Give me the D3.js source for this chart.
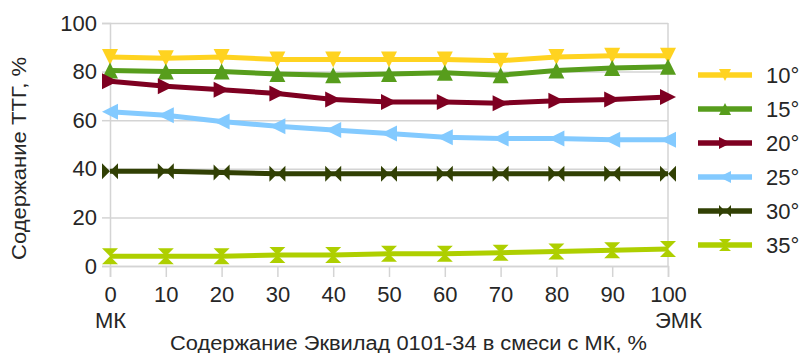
<!DOCTYPE html>
<html>
<head>
<meta charset="utf-8">
<script src="https://cdn.jsdelivr.net/npm/d3@7"></script>
<style>
  html, body { margin: 0; padding: 0; background: #fff; }
  svg { display: block; font-family: "Liberation Sans", Arial, sans-serif; }
</style>
</head>
<body>
<svg id="chart" width="800" height="353"></svg>
<script>
// Share of Эквилад 0101-34 in the blend (x) vs. TTG content at several temperatures
const categories = [0, 10, 20, 30, 40, 50, 60, 70, 80, 90, 100];
const categorySubLabels = { 0: "МК", 100: "ЭМК" };
const yTicks = [0, 20, 40, 60, 80, 100];

const seriesNames = ["10°", "15°", "20°", "25°", "30°", "35°"];
const values10 = [86, 85.5, 86, 85, 85, 85, 85, 84.5, 86, 86.5, 86.5];
const values15 = [80.5, 80, 80, 79, 78.5, 79, 79.5, 78.5, 80.5, 81.5, 82];
const values20 = [76, 74, 72.5, 71, 68.5, 67.5, 67.5, 67, 68, 68.5, 69.5];
const values25 = [63.5, 62, 59.5, 57.5, 56, 54.5, 53, 52.5, 52.5, 52, 52];
const values30 = [39, 39, 38.5, 38, 38, 38, 38, 38, 38, 38, 38];
const values35 = [4, 4, 4, 4.5, 4.5, 5, 5, 5.5, 6, 6.5, 7];

const seriesColors = ["#ffd320", "#579d1c", "#7e0021", "#83caff", "#314004", "#aecf00"];
const seriesSymbols = ["down", "up", "right", "left", "bowtie", "hourglass"];

const xTitle = "Содержание Эквилад 0101-34 в смеси с МК, %";
const yTitle = "Содержание ТТГ, %";

const series = [values10, values15, values20, values25, values30, values35].map((vals, i) => ({
  name: seriesNames[i],
  color: seriesColors[i],
  symbol: seriesSymbols[i],
  points: categories.map((c, j) => ({ x: c, y: vals[j] }))
}));

// Plot geometry
const plot = { left: 110, right: 668, top: 23, bottom: 266 };
const textColor = "#262626";
const gridColor = "#d4d4d4";
const tickFont = "22px";

const x = d3.scaleLinear().domain([0, 100]).range([plot.left, plot.right]);
const y = d3.scaleLinear().domain([0, 100]).range([plot.bottom, plot.top]);

const svg = d3.select("#chart");

// Symbol outlines, s = half extent
function symbolPath(type, s) {
  const p = d3.path();
  switch (type) {
    case "down":
      p.moveTo(-s, -s); p.lineTo(s, -s); p.lineTo(0, s); p.closePath(); break;
    case "up":
      p.moveTo(-s, s); p.lineTo(s, s); p.lineTo(0, -s); p.closePath(); break;
    case "right":
      p.moveTo(-s, -s); p.lineTo(-s, s); p.lineTo(s, 0); p.closePath(); break;
    case "left":
      p.moveTo(s, -s); p.lineTo(s, s); p.lineTo(-s, 0); p.closePath(); break;
    case "bowtie":
      p.moveTo(-s, -s); p.lineTo(0, 0); p.lineTo(-s, s); p.closePath();
      p.moveTo(s, -s); p.lineTo(0, 0); p.lineTo(s, s); p.closePath(); break;
    case "hourglass":
      p.moveTo(-s, -s); p.lineTo(s, -s); p.lineTo(0, 0); p.closePath();
      p.moveTo(-s, s); p.lineTo(s, s); p.lineTo(0, 0); p.closePath(); break;
  }
  return p.toString();
}

// Horizontal gridlines
svg.append("g")
  .attr("transform", `translate(${plot.left},0)`)
  .call(d3.axisLeft(y).tickValues(yTicks).tickSize(-(plot.right - plot.left)).tickFormat(""))
  .call(g => g.select(".domain").remove())
  .call(g => g.selectAll("line").attr("stroke", gridColor).attr("stroke-width", 1.5));

// Y axis: short outer ticks and labels
svg.append("g")
  .attr("transform", `translate(${plot.left},0)`)
  .call(d3.axisLeft(y).tickValues(yTicks).tickSize(8).tickPadding(5))
  .call(g => g.select(".domain").attr("stroke", gridColor).attr("stroke-width", 1.5))
  .call(g => g.selectAll("line").attr("stroke", gridColor).attr("stroke-width", 1.5))
  .call(g => g.selectAll("text")
    .attr("fill", textColor)
    .style("font-size", tickFont)
    .style("font-family", "'Liberation Sans', Arial, sans-serif"));

// Right plot border
svg.append("line")
  .attr("x1", plot.right).attr("x2", plot.right)
  .attr("y1", plot.top).attr("y2", plot.bottom)
  .attr("stroke", gridColor).attr("stroke-width", 1.5);

// X axis
const xAxis = svg.append("g")
  .attr("transform", `translate(0,${plot.bottom})`)
  .call(d3.axisBottom(x).tickValues(categories).tickSize(11).tickPadding(9))
  .call(g => g.select(".domain").attr("stroke", gridColor).attr("stroke-width", 1.5))
  .call(g => g.selectAll("line").attr("stroke", gridColor).attr("stroke-width", 1.5))
  .call(g => g.selectAll("text")
    .attr("fill", textColor)
    .style("font-size", tickFont)
    .style("font-family", "'Liberation Sans', Arial, sans-serif"));

// Second line under the first and last category
xAxis.selectAll(".tick").each(function (d) {
  const sub = categorySubLabels[d];
  if (!sub) return;
  d3.select(this).select("text").append("tspan")
    .attr("x", d === 100 ? 10 : 0)
    .attr("dy", "1.2em")
    .text(sub);
});

// Series lines
const line = d3.line().x(d => x(d.x)).y(d => y(d.y));
const seriesG = svg.append("g");
series.forEach(s => {
  const g = seriesG.append("g");
  g.append("path")
    .datum(s.points)
    .attr("fill", "none")
    .attr("stroke", s.color)
    .attr("stroke-width", 5)
    .attr("stroke-linejoin", "round")
    .attr("d", line);
  g.selectAll("path.marker")
    .data(s.points)
    .join("path")
    .attr("class", "marker")
    .attr("transform", d => `translate(${x(d.x)},${y(d.y)})`)
    .attr("d", symbolPath(s.symbol, 8))
    .attr("fill", s.color);
});

// Legend
const legend = svg.append("g").attr("transform", "translate(698,75)");
series.forEach((s, i) => {
  const row = legend.append("g").attr("transform", `translate(0,${i * 34})`);
  row.append("line")
    .attr("x1", 0).attr("x2", 54)
    .attr("stroke", s.color).attr("stroke-width", 5.5);
  row.append("path")
    .attr("transform", "translate(27,0)")
    .attr("d", symbolPath(s.symbol, 6))
    .attr("fill", s.color);
  row.append("text")
    .attr("x", 68).attr("dy", "0.36em")
    .attr("fill", textColor)
    .style("font-size", tickFont)
    .text(s.name);
});

// Axis titles
svg.append("text")
  .attr("x", 170)
  .attr("y", 350)
  .attr("textLength", 477)
  .attr("lengthAdjust", "spacingAndGlyphs")
  .attr("fill", textColor)
  .style("font-size", "20px")
  .text(xTitle);

svg.append("text")
  .attr("transform", "translate(26,260) rotate(-90)")
  .attr("textLength", 203)
  .attr("lengthAdjust", "spacingAndGlyphs")
  .attr("fill", textColor)
  .style("font-size", "20px")
  .text(yTitle);
</script>
</body>
</html>
